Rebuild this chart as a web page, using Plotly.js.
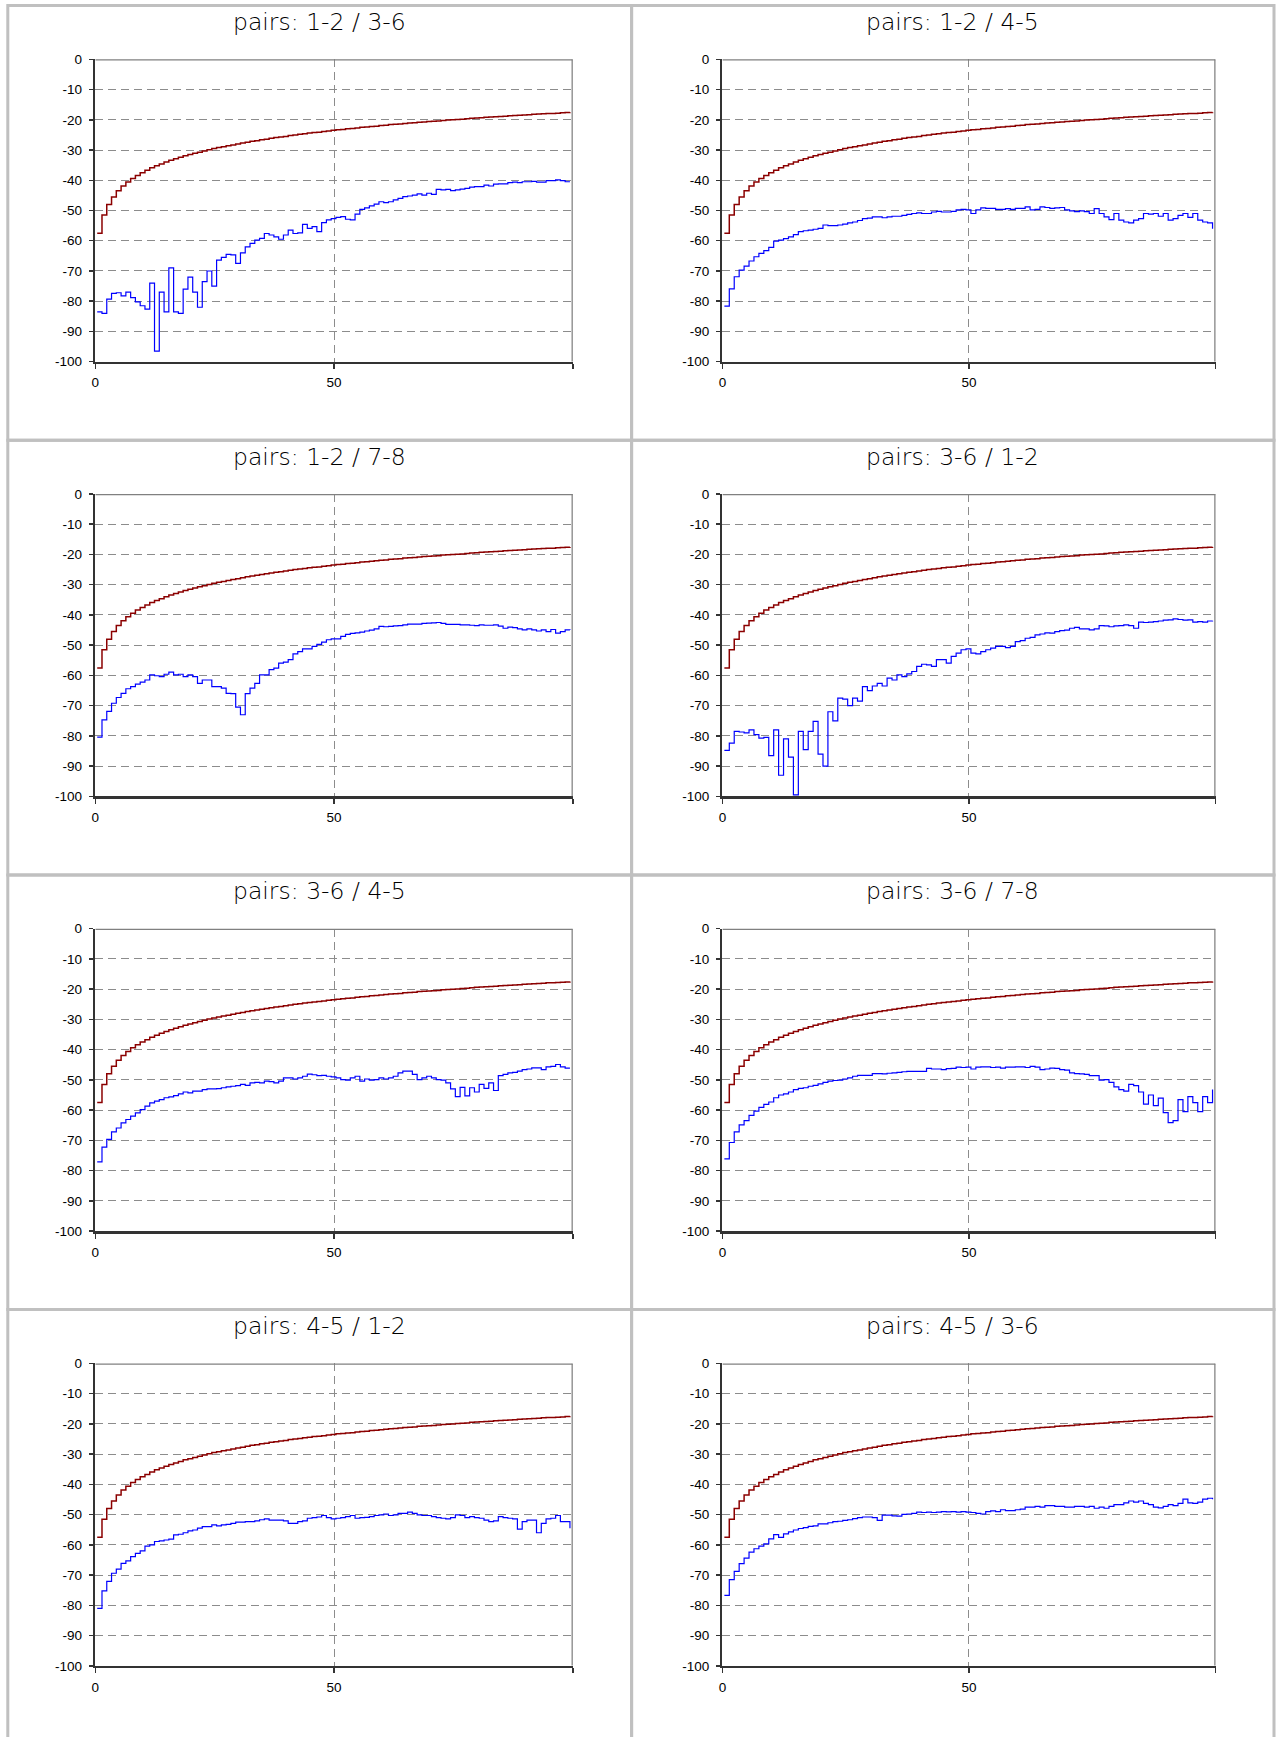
<!DOCTYPE html>
<html><head><meta charset="utf-8">
<script src="https://cdn.plot.ly/plotly-3.0.1.min.js"></script>
<style>html,body{margin:0;padding:0;background:#fff;}#chart{width:1277px;height:1737px;}</style>
</head><body><div id="chart"></div>
<script>
// ---- data ----
const panelTitles = ['pairs: 1-2 / 3-6','pairs: 1-2 / 4-5','pairs: 1-2 / 7-8','pairs: 3-6 / 1-2',
                     'pairs: 3-6 / 4-5','pairs: 3-6 / 7-8','pairs: 4-5 / 1-2','pairs: 4-5 / 3-6'];
const xTickVals = [0, 50, 100];
const xTickText = ['0', '50', ''];
const yTickVals = [0,-10,-20,-30,-40,-50,-60,-70,-80,-90,-100];
const yTickText = ['0','-10','-20','-30','-40','-50','-60','-70','-80','-90','-100'];

const limitLine = [
 -57.5,-51.5,-48.0,-45.5,-43.5,-41.9,-40.6,-39.4,-38.4,-37.5,
 -36.7,-35.9,-35.2,-34.6,-34.0,-33.4,-32.9,-32.4,-31.9,-31.5,
 -31.1,-30.7,-30.3,-29.9,-29.5,-29.2,-28.9,-28.6,-28.3,-28.0,
 -27.7,-27.4,-27.1,-26.9,-26.6,-26.4,-26.1,-25.9,-25.7,-25.5,
 -25.2,-25.0,-24.8,-24.6,-24.4,-24.2,-24.1,-23.9,-23.7,-23.5,
 -23.3,-23.2,-23.0,-22.9,-22.7,-22.5,-22.4,-22.2,-22.1,-21.9,
 -21.8,-21.6,-21.5,-21.4,-21.2,-21.1,-21.0,-20.8,-20.7,-20.6,
 -20.5,-20.4,-20.2,-20.1,-20.0,-19.9,-19.8,-19.7,-19.5,-19.4,
 -19.3,-19.2,-19.1,-19.0,-18.9,-18.8,-18.7,-18.6,-18.5,-18.4,
 -18.3,-18.2,-18.1,-18.0,-17.9,-17.9,-17.8,-17.7,-17.6,-17.5];

const meas12_36 = [
 -83.5,-84.0,-79.3,-77.4,-77.2,-78.2,-77.0,-78.8,-80.2,-81.5,
 -82.6,-74.0,-96.5,-77.0,-83.5,-69.0,-83.5,-84.0,-76.0,-72.0,
 -77.0,-82.0,-73.5,-70.0,-75.0,-66.4,-65.5,-64.5,-64.7,-67.5,
 -64.0,-62.0,-60.9,-59.8,-59.2,-57.6,-58.1,-58.7,-59.5,-58.1,
 -56.5,-57.6,-57.4,-54.6,-55.9,-55.3,-57.0,-54.0,-53.1,-52.7,
 -52.3,-52.0,-52.9,-53.1,-51.2,-49.6,-49.1,-48.5,-47.9,-47.1,
 -47.4,-47.1,-46.5,-46.0,-45.4,-45.2,-44.9,-44.5,-44.9,-44.3,
 -44.7,-43.0,-43.2,-43.0,-43.4,-43.2,-42.9,-42.7,-42.3,-42.1,
 -42.1,-41.6,-41.9,-41.3,-41.2,-41.2,-40.8,-40.6,-40.8,-40.5,
 -40.5,-40.4,-40.6,-40.6,-40.1,-40.1,-39.9,-40.1,-40.5,-40.5];

const meas12_45 = [
 -81.6,-75.9,-71.9,-69.7,-68.4,-66.7,-65.3,-64.2,-63.3,-62.2,
 -60.1,-59.8,-59.3,-58.7,-58.0,-57.0,-56.7,-56.5,-56.2,-55.9,
 -54.8,-55.0,-55.0,-54.8,-54.5,-54.1,-53.8,-53.3,-52.7,-52.5,
 -52.1,-52.1,-52.4,-52.1,-51.9,-51.9,-51.6,-51.3,-51.0,-50.8,
 -51.0,-51.0,-50.5,-50.3,-50.5,-50.5,-50.3,-49.8,-49.6,-49.8,
 -51.0,-49.8,-49.1,-49.3,-49.3,-49.6,-49.6,-49.4,-49.6,-49.3,
 -49.3,-48.8,-49.8,-49.6,-48.8,-49.0,-49.3,-49.1,-49.0,-49.8,
 -50.1,-50.4,-50.1,-50.4,-51.0,-49.4,-51.0,-52.1,-53.0,-51.0,
 -53.2,-53.8,-54.1,-53.2,-52.7,-51.0,-51.2,-51.0,-51.9,-51.0,
 -53.2,-52.7,-51.6,-51.0,-52.3,-51.0,-53.2,-53.8,-54.1,-56.0];

const meas12_78 = [
 -80.4,-74.7,-71.9,-69.2,-67.3,-65.9,-64.4,-63.7,-62.9,-62.2,
 -61.5,-59.8,-60.1,-60.4,-59.6,-58.9,-59.8,-59.6,-60.4,-59.8,
 -60.4,-62.6,-61.5,-61.5,-63.7,-63.7,-64.2,-65.9,-66.0,-70.5,
 -73.0,-66.0,-64.2,-62.6,-59.8,-59.8,-58.1,-57.6,-55.9,-55.6,
 -54.8,-52.9,-52.1,-51.2,-51.2,-50.4,-49.7,-49.0,-48.2,-47.9,
 -47.9,-47.1,-46.4,-46.1,-45.9,-45.7,-45.3,-45.0,-44.6,-43.8,
 -43.9,-43.8,-43.6,-43.5,-43.3,-43.0,-43.0,-43.0,-42.8,-42.7,
 -42.6,-42.5,-42.8,-43.1,-43.1,-43.1,-43.3,-43.3,-43.4,-43.5,
 -43.3,-43.4,-43.4,-43.3,-43.7,-44.4,-44.0,-44.2,-44.6,-44.9,
 -44.6,-44.9,-45.3,-44.9,-45.5,-44.8,-46.0,-45.5,-44.9,-45.0];

const meas36_12 = [
 -84.8,-82.4,-78.5,-78.7,-79.0,-78.0,-79.6,-80.7,-80.5,-86.5,
 -78.0,-93.0,-81.0,-87.0,-99.5,-78.5,-84.5,-78.5,-75.2,-86.0,
 -90.0,-72.0,-75.0,-67.5,-67.8,-70.0,-67.5,-68.5,-63.7,-65.0,
 -63.5,-62.6,-63.5,-60.9,-61.5,-59.8,-60.4,-59.5,-58.7,-57.0,
 -56.3,-56.5,-57.0,-54.8,-54.8,-55.9,-53.7,-52.6,-51.5,-51.2,
 -52.6,-52.9,-52.1,-51.5,-51.0,-50.4,-50.4,-50.8,-50.4,-48.8,
 -48.5,-47.7,-47.4,-46.6,-46.3,-45.9,-46.0,-45.5,-45.2,-45.0,
 -44.4,-44.1,-44.6,-44.6,-44.9,-44.6,-43.5,-43.6,-43.9,-43.6,
 -43.5,-43.3,-43.5,-44.4,-42.4,-42.5,-42.4,-42.2,-42.0,-41.7,
 -41.6,-41.3,-41.5,-41.7,-41.6,-42.4,-42.2,-42.4,-42.0,-41.9];

const meas36_45 = [
 -77.1,-72.2,-69.7,-67.2,-65.9,-64.2,-63.1,-62.0,-60.9,-59.8,
 -58.7,-57.6,-57.0,-56.5,-55.9,-55.6,-55.2,-54.6,-54.0,-54.3,
 -53.7,-53.7,-53.2,-53.0,-53.0,-52.9,-52.6,-52.3,-52.1,-51.9,
 -51.5,-51.8,-51.0,-50.8,-51.0,-50.4,-50.6,-51.0,-50.4,-49.3,
 -49.3,-49.7,-49.3,-48.8,-48.1,-48.3,-48.6,-48.5,-48.8,-49.0,
 -49.3,-49.9,-50.1,-49.3,-48.8,-50.4,-49.7,-50.1,-49.9,-49.3,
 -49.7,-49.3,-48.8,-47.7,-47.1,-47.1,-48.2,-49.9,-49.3,-48.8,
 -49.3,-49.9,-50.1,-51.0,-53.0,-55.5,-52.5,-55.3,-52.6,-54.0,
 -51.5,-52.8,-51.0,-53.5,-48.6,-48.2,-47.7,-47.5,-47.1,-46.6,
 -46.4,-46.0,-46.0,-46.6,-45.7,-45.5,-44.9,-45.7,-46.1,-46.1];

const meas36_78 = [
 -76.1,-70.7,-67.2,-64.9,-63.5,-61.7,-60.3,-59.1,-58.1,-57.3,
 -55.9,-55.0,-54.6,-54.0,-53.2,-52.8,-52.6,-52.1,-51.8,-51.3,
 -50.8,-50.4,-50.2,-50.1,-49.7,-49.3,-48.8,-48.5,-48.5,-48.5,
 -47.9,-47.9,-48.0,-47.8,-47.7,-47.5,-47.3,-47.2,-47.2,-47.2,
 -47.2,-46.2,-46.4,-46.4,-46.6,-46.3,-46.2,-45.8,-45.9,-45.8,
 -46.4,-45.8,-45.7,-45.7,-45.9,-45.8,-46.1,-45.8,-45.8,-45.7,
 -45.7,-45.9,-45.5,-45.8,-46.6,-46.4,-46.1,-46.2,-46.6,-46.8,
 -47.7,-47.9,-48.0,-48.2,-48.6,-48.6,-50.1,-49.9,-50.8,-52.3,
 -53.2,-53.7,-51.5,-51.9,-54.0,-58.0,-55.0,-58.5,-56.0,-60.8,
 -64.1,-63.5,-56.5,-60.5,-55.5,-57.5,-60.5,-55.5,-57.5,-53.2];

const meas45_12 = [
 -81.0,-75.2,-72.1,-69.4,-68.0,-66.1,-65.3,-63.9,-62.8,-62.0,
 -60.4,-60.0,-58.9,-58.7,-58.4,-58.1,-56.7,-56.5,-56.0,-55.4,
 -55.1,-54.5,-54.0,-54.0,-53.4,-53.7,-53.4,-53.2,-52.9,-52.5,
 -52.5,-52.3,-52.3,-52.1,-51.7,-51.4,-51.8,-51.8,-51.8,-52.1,
 -52.9,-52.9,-52.3,-52.1,-51.2,-51.0,-50.8,-50.3,-51.0,-51.4,
 -51.2,-51.0,-50.7,-50.3,-51.2,-51.0,-50.9,-50.7,-50.3,-50.1,
 -49.8,-50.3,-50.1,-49.6,-49.6,-49.2,-49.6,-50.1,-50.3,-50.3,
 -50.7,-51.0,-51.2,-51.4,-51.0,-50.1,-50.3,-51.0,-50.7,-51.0,
 -51.2,-51.8,-52.3,-52.1,-50.7,-51.0,-51.2,-51.4,-54.8,-52.3,
 -51.8,-51.8,-56.0,-52.9,-51.4,-51.2,-50.3,-52.3,-52.3,-54.5];

const meas45_36 = [
 -76.7,-71.5,-68.8,-66.2,-64.4,-62.4,-61.3,-60.4,-59.7,-58.0,
 -56.6,-57.5,-56.4,-55.7,-55.1,-54.6,-54.3,-53.9,-53.7,-53.1,
 -53.1,-52.7,-52.3,-52.2,-51.9,-51.7,-51.3,-51.0,-50.8,-50.8,
 -51.0,-51.9,-50.2,-50.2,-50.4,-50.5,-49.9,-49.8,-49.6,-49.2,
 -49.3,-49.2,-49.3,-49.2,-49.0,-49.1,-49.0,-49.2,-49.0,-49.2,
 -49.3,-49.6,-49.8,-49.0,-48.8,-49.0,-48.4,-48.7,-48.7,-48.4,
 -48.2,-47.5,-47.5,-47.3,-47.5,-47.0,-47.0,-47.3,-47.3,-47.5,
 -47.5,-47.3,-47.3,-47.5,-47.3,-47.9,-47.5,-47.9,-47.3,-46.7,
 -46.7,-46.1,-45.5,-45.9,-45.5,-46.3,-46.7,-47.5,-47.8,-47.3,
 -46.7,-47.0,-46.3,-44.9,-46.1,-46.3,-45.9,-44.9,-44.6,-44.9];

const measured = [meas12_36, meas12_45, meas12_78, meas36_12, meas36_45, meas36_78, meas45_12, meas45_36];

// ---- layout geometry (pixels) ----
const W = 1277, H = 1737;
const plotCols = [[95.3, 572.8], [722.4, 1215.5]];
const cellCols = [[7.8, 631.6], [631.6, 1274]];
const firstPlotTop = 59.3, plotH = 302.4, pitch = 434.7, firstCellTop = 5.5, titleOffset = 16.5;
const px = x => x / W;
const py = y => 1 - y / H;

const traces = [];
const layout = {
  width: W, height: H,
  margin: {l: 0, r: 0, t: 0, b: 0},
  paper_bgcolor: '#ffffff', plot_bgcolor: '#ffffff',
  showlegend: false,
  shapes: [], annotations: []
};

const tickFont = {family: 'Liberation Sans, Arial, sans-serif', size: 13.5, color: '#000'};

for (let k = 0; k < 8; k++) {
  const row = Math.floor(k / 2), col = k % 2;
  const sfx = k === 0 ? '' : String(k + 1);
  const xa = 'x' + sfx, ya = 'y' + sfx;
  const top = firstPlotTop + row * pitch, bot = top + plotH;
  layout['xaxis' + sfx] = {
    domain: [px(plotCols[col][0]), px(plotCols[col][1])], anchor: ya,
    range: [0, 100], tickmode: 'array', tickvals: xTickVals, ticktext: xTickText,
    ticks: 'outside', ticklen: 5, tickwidth: 1.5, tickcolor: '#333',
    showline: true, linecolor: '#333', linewidth: 2.5,
    showgrid: true, gridcolor: '#8c8c8c', gridwidth: 1, griddash: '8px,5px',
    zeroline: false, tickfont: tickFont, ticklabelstandoff: 2, fixedrange: true
  };
  layout['yaxis' + sfx] = {
    domain: [py(bot), py(top)], anchor: xa,
    range: [-100, 0], tickmode: 'array', tickvals: yTickVals, ticktext: yTickText,
    ticks: 'outside', ticklen: 4, tickwidth: 1.5, tickcolor: '#333',
    showline: true, linecolor: '#333', linewidth: 2.5,
    showgrid: true, gridcolor: '#8c8c8c', gridwidth: 1, griddash: '8px,5px',
    zeroline: false, tickfont: tickFont, ticklabelstandoff: 4, fixedrange: true
  };
  // limit line (red)
  traces.push({type: 'scatter', mode: 'lines', xaxis: xa, yaxis: ya,
    x0: 0.4, dx: 1, y: limitLine, line: {color: '#8b0000', width: 1.5, shape: 'hv'},
    hoverinfo: 'skip'});
  // measured (blue)
  traces.push({type: 'scatter', mode: 'lines', xaxis: xa, yaxis: ya,
    x0: 0.4, dx: 1, y: measured[k], line: {color: '#0000ff', width: 1.2, shape: 'hv'},
    hoverinfo: 'skip'});
  // plot-area frame (top & right, gray)
  layout.shapes.push({type: 'line', xref: xa, yref: ya, x0: 0, x1: 100, y0: 0, y1: 0,
    line: {color: '#808080', width: 2.5}, layer: 'above'});
  layout.shapes.push({type: 'line', xref: xa, yref: ya, x0: 100, x1: 100, y0: 0, y1: -100,
    line: {color: '#808080', width: 2.5}, layer: 'above'});
  // cell border
  const cTop = firstCellTop + row * pitch;
  const cBot = row === 3 ? H + 10 : cTop + pitch;
  layout.shapes.push({type: 'rect', xref: 'paper', yref: 'paper',
    x0: px(cellCols[col][0]), x1: px(cellCols[col][1]), y0: py(cBot), y1: py(cTop),
    line: {color: '#c0c0c0', width: 3}, fillcolor: 'rgba(0,0,0,0)', layer: 'above'});
  // title
  layout.annotations.push({xref: 'paper', yref: 'paper',
    x: px((cellCols[col][0] + cellCols[col][1]) / 2), y: py(cTop + titleOffset),
    xanchor: 'center', yanchor: 'middle', showarrow: false, text: panelTitles[k],
    font: {family: 'DejaVu Sans, sans-serif', size: 23.5, weight: 200, color: '#000'}});
}

Plotly.newPlot('chart', traces, layout, {staticPlot: true, displayModeBar: false});
</script>
</body></html>
